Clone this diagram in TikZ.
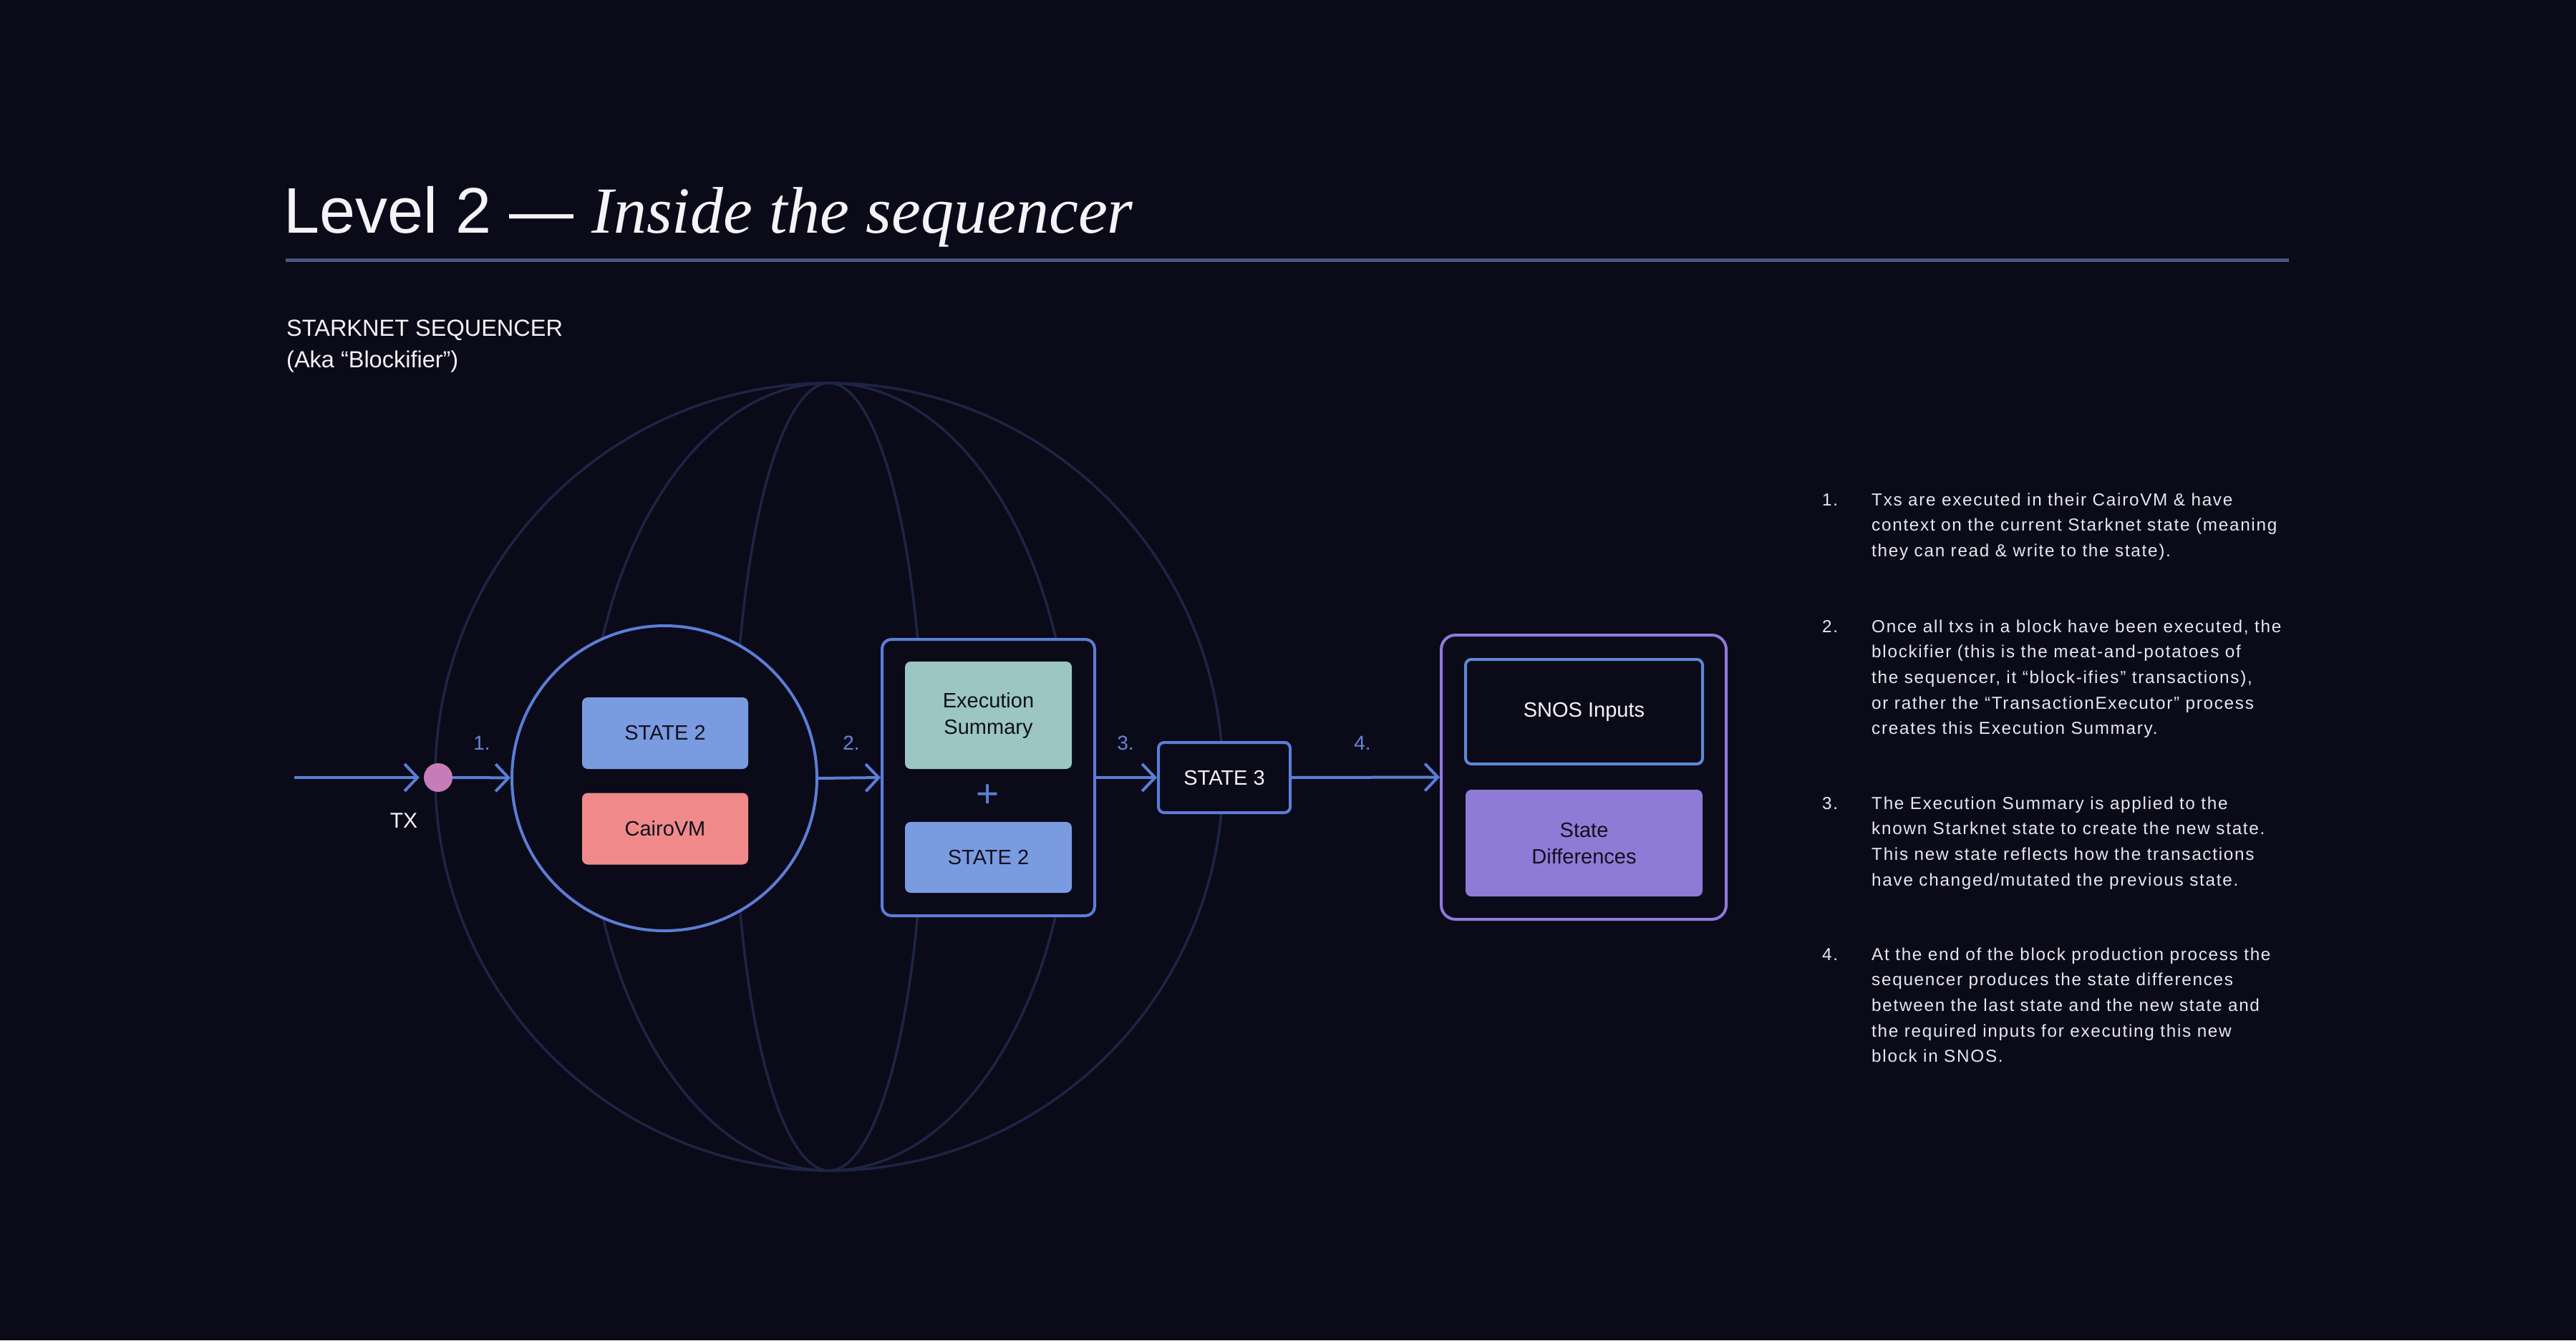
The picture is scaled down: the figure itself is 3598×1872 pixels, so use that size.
\documentclass[tikz,border=0pt]{standalone}
\usepackage{fontspec}
\setmainfont{Liberation Sans}
\newfontfamily\serifit{Liberation Serif}
\newfontfamily\bodyfont[LetterSpace=7]{Liberation Sans}
\usetikzlibrary{arrows.meta}
\definecolor{bg}{HTML}{0B0A19}
\definecolor{globe}{HTML}{1E2444}
\definecolor{flow}{HTML}{5B7ED6}
\definecolor{numc}{HTML}{6585DA}
\definecolor{rulec}{HTML}{4A5580}
\definecolor{stblue}{HTML}{7B9BE0}
\definecolor{salmon}{HTML}{F08A8A}
\definecolor{tealc}{HTML}{9CC6C1}
\definecolor{purp}{HTML}{8E7BD6}
\definecolor{purpline}{HTML}{8F7AD8}
\definecolor{snosline}{HTML}{5D89D6}
\definecolor{dotc}{HTML}{C77CBA}
\definecolor{darktxt}{HTML}{10101F}
\definecolor{bodytxt}{HTML}{E8E8EE}
\definecolor{titlec}{HTML}{F4F4F8}
\begin{document}
\begin{tikzpicture}[x=1pt,y=-1pt,
  meridian/.style={draw=globe, line width=3.5pt},
  fillbox/.style={rectangle, rounded corners=8pt, minimum width=232pt, minimum height=100pt, inner sep=0pt, font=\fontsize{29}{37}\selectfont, text=darktxt, align=center},
  framebox/.style={rectangle, draw=flow, line width=4pt, fill=bg, inner sep=0pt},
  conn/.style={draw=flow, line width=4pt, -{Straight Barb[length=18pt,width=38pt]}},
  stepnum/.style={text=numc, font=\fontsize{28}{28}\selectfont, inner sep=0pt},
  bodytext/.style={text=bodytxt, font=\bodyfont\fontsize{24.3}{35.6}\selectfont, inner sep=0pt, align=left},
]
\fill[bg] (0,0) rectangle (3598,1872);
\useasboundingbox (0,0) rectangle (3598,1872);

% title
\node[anchor=base west, inner sep=0pt, text=titlec, font=\fontsize{90}{90}\selectfont] (title) at (396,325) {Level 2 — {\serifit\itshape\fontsize{92}{92}\selectfont Inside the sequencer}};
\coordinate (rl) at (399,363);
\coordinate (rr) at (3197,363);
\draw[rulec, line width=5pt] (rl) -- (rr);
\node[anchor=base west, inner sep=0pt, text=titlec, font=\fontsize{32.5}{44}\selectfont, align=left] (sub) at (400,513) {STARKNET SEQUENCER\\(Aka “Blockifier”)};

% globe
\draw[meridian] (1158,1085) circle[radius=550pt];
\draw[meridian] (1158,1085) ellipse[x radius=132pt, y radius=550pt];
\draw[meridian] (1158,1085) ellipse[x radius=338pt, y radius=550pt];

% nodes
\coordinate (start) at (411,1086);
\node[circle, fill=dotc, minimum size=40pt, inner sep=0pt] (dot) at (612,1086) {};
\node[anchor=center, text=titlec, font=\fontsize{30}{30}\selectfont, inner sep=0pt] (tx) at (564,1146) {TX};

\node[circle, draw=flow, line width=4pt, fill=bg, minimum size=426pt, inner sep=0pt] (circ) at (928,1087) {};
\node[fillbox, fill=stblue] (st2a) at (929,1024) {STATE 2};
\node[fillbox, fill=salmon] (cvm) at (929,1157.5) {CairoVM};

\node[framebox, rounded corners=13pt, minimum width=297pt, minimum height=386pt] (box2) at (1380.5,1086) {};
\node[fillbox, fill=tealc, minimum width=233pt, minimum height=150pt] (exs) at (1380.5,999) {Execution\\Summary};
\node[text=flow, font=\fontsize{55}{55}\selectfont, inner sep=0pt] (plus) at (1380,1112) {+};
\node[fillbox, fill=stblue, minimum width=233pt, minimum height=99pt] (st2b) at (1380.5,1197.5) {STATE 2};

\node[framebox, rounded corners=8pt, minimum width=184pt, minimum height=98pt, text=titlec, font=\fontsize{29}{37}\selectfont] (s3) at (1710,1086) {STATE 3};

\node[framebox, draw=purpline, rounded corners=20pt, minimum width=398pt, minimum height=397pt] (box4) at (2212,1085.5) {};
\node[framebox, draw=snosline, rounded corners=8pt, minimum width=331pt, minimum height=146pt, text=titlec, font=\fontsize{29}{37}\selectfont] (snos) at (2212.5,994) {SNOS Inputs};
\node[fillbox, fill=purp, minimum width=331pt, minimum height=149pt] (sdiff) at (2212.5,1177.5) {State\\Differences};

% connectors
\draw[conn, shorten >=6pt] (start) -- (dot);
\draw[conn] (dot) -- (circ);
\draw[conn] (circ.east) -- (box2.west);
\draw[conn] (box2.east) -- (s3.west);
\draw[conn] (s3.east) -- (box4.west);

\node[stepnum] (l1) at (673,1038) {1.};
\node[stepnum] (l2) at (1189,1038) {2.};
\node[stepnum] (l3) at (1572,1038) {3.};
\node[stepnum] (l4) at (1903,1038) {4.};

% right column
\node[bodytext, anchor=base west] (n1) at (2545,706) {1.};
\node[bodytext, anchor=north west] (t1) at (2614,676) {\rule{0pt}{30pt}Txs are executed in their CairoVM \& have\\context on the current Starknet state (meaning\\they can read \& write to the state).};
\node[bodytext, anchor=base west] (n2) at (2545,883) {2.};
\node[bodytext, anchor=north west] (t2) at (2614,853) {\rule{0pt}{30pt}Once all txs in a block have been executed, the\\blockifier (this is the meat-and-potatoes of\\the sequencer, it “block-ifies” transactions),\\or rather the “TransactionExecutor” process\\creates this Execution Summary.};
\node[bodytext, anchor=base west] (n3) at (2545,1130) {3.};
\node[bodytext, anchor=north west] (t3) at (2614,1100) {\rule{0pt}{30pt}The Execution Summary is applied to the\\known Starknet state to create the new state.\\This new state reflects how the transactions\\have changed/mutated the previous state.};
\node[bodytext, anchor=base west] (n4) at (2545,1341) {4.};
\node[bodytext, anchor=north west] (t4) at (2614,1311) {\rule{0pt}{30pt}At the end of the block production process the\\sequencer produces the state differences\\between the last state and the new state and\\the required inputs for executing this new\\block in SNOS.};
\end{tikzpicture}
\end{document}
